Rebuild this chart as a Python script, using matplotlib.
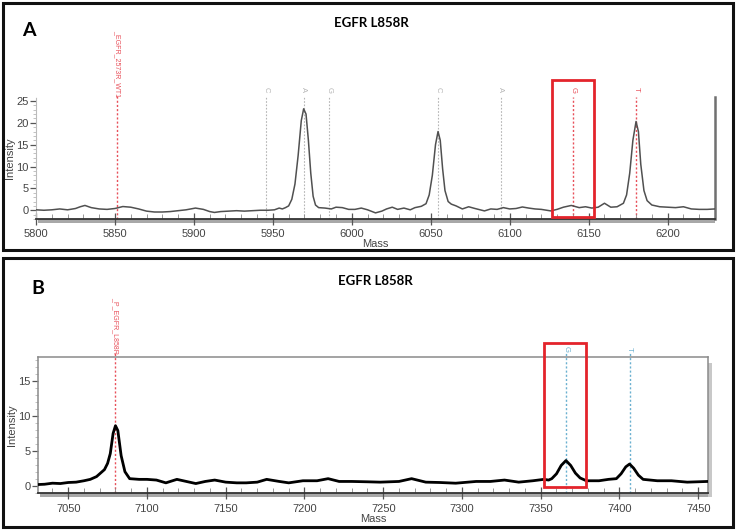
import matplotlib
matplotlib.use("Agg")
import matplotlib.pyplot as plt
from matplotlib.patches import Rectangle
from matplotlib.ticker import MultipleLocator

# ---------------- data: panel A ----------------
mass_a = [5800, 5805, 5810, 5815, 5820, 5825, 5828, 5831, 5835, 5840, 5845, 5850, 5855, 5860,
          5865, 5870, 5875, 5880, 5885, 5890, 5895, 5901, 5906, 5910, 5913, 5917, 5922, 5927,
          5932, 5937, 5942, 5947, 5951, 5954, 5956, 5958, 5960, 5962, 5964, 5966, 5968, 5969.5,
          5971, 5972.5, 5974, 5975.5, 5977, 5979, 5983, 5987, 5990, 5994, 5998, 6002, 6006,
          6010, 6015, 6019, 6022, 6025.6, 6029, 6033, 6037, 6040, 6044, 6047, 6049, 6051, 6053,
          6054.6, 6056, 6057.5, 6059, 6061, 6063, 6066, 6070, 6074, 6078, 6084, 6088, 6092,
          6096, 6100, 6104, 6108, 6112, 6116, 6120, 6126, 6130, 6134, 6139, 6144, 6148, 6152,
          6156, 6160, 6164, 6168, 6172, 6174, 6176, 6178, 6180, 6181.5, 6183, 6185, 6187, 6190,
          6195, 6200, 6205, 6210, 6215, 6220, 6225, 6230]
int_a = [0.1, 0.0, 0.1, 0.3, 0.1, 0.4, 0.8, 1.1, 0.6, 0.3, 0.2, 0.4, 0.85, 0.7,
         0.3, -0.2, -0.4, -0.4, -0.3, -0.1, 0.1, 0.5, 0.2, -0.3, -0.5, -0.3, -0.2, -0.1,
         -0.2, -0.1, 0.0, 0.0, 0.1, 0.5, 0.3, 0.6, 1.0, 2.5, 6.0, 12.5, 20.5, 23.2,
         22.0, 16.0, 8.5, 3.2, 1.2, 0.6, 0.5, 0.3, 0.7, 0.6, 0.2, 0.2, 0.5,
         0.1, -0.6, -0.2, 0.3, 0.7, 0.2, 0.5, 0.1, 0.6, 0.9, 1.5, 3.5, 8.0, 15.0,
         18.0, 16.0, 9.5, 4.5, 2.0, 1.4, 1.0, 0.3, 0.8, 0.4, -0.15, 0.3, 0.2,
         0.6, 0.3, 0.4, 0.75, 0.5, 0.3, 0.2, -0.15, 0.2, 0.7, 1.1, 0.6, 0.8, 0.5,
         0.7, 1.6, 0.7, 0.8, 1.6, 3.5, 8.5, 16.0, 20.3, 18.0, 10.5, 4.5, 2.2, 1.2,
         0.8, 0.7, 0.6, 0.8, 0.3, 0.2, 0.2, 0.3]

markers_a_mass = [5945.5, 5969.5, 5985.8, 6054.6, 6094.3, 6140.0, 6180.0]
markers_a_label = ["C", "A", "G", "C", "A", "G", "T"]
markers_a_red = [False, False, False, False, False, True, True]
probe_a_mass = 5851.5
probe_a_label = "_EGFR_2573R_WT1"
box_a = [6126.5, 6153.6, -1.55, 29.8]

# ---------------- data: panel B ----------------
mass_b = [7030, 7035, 7040, 7045, 7050, 7055, 7060, 7064, 7068, 7073, 7075, 7076.7, 7078.5, 7080,
          7081.5, 7083.6, 7086, 7089, 7095, 7100, 7106, 7112, 7119, 7125, 7131, 7137, 7143,
          7150, 7157, 7163, 7170, 7176, 7184, 7190, 7199, 7208, 7215, 7222, 7230, 7240, 7248,
          7260, 7268, 7277, 7286, 7296, 7309, 7318, 7327, 7336, 7345, 7352, 7355, 7357, 7360,
          7363, 7366, 7369, 7372, 7375, 7379, 7387, 7393, 7398, 7401, 7404, 7406.4, 7409, 7412,
          7415, 7424, 7433, 7443, 7456]
int_b = [0.15, 0.2, 0.35, 0.3, 0.45, 0.5, 0.7, 0.9, 1.3, 2.3, 3.2, 4.6, 7.5, 8.6,
         7.9, 4.3, 2.0, 1.0, 0.9, 0.9, 0.8, 0.4, 0.9, 0.6, 0.3, 0.6, 0.8,
         0.5, 0.4, 0.4, 0.5, 0.9, 0.6, 0.4, 0.7, 0.7, 1.0, 0.6, 0.6, 0.55, 0.5,
         0.6, 1.0, 0.5, 0.45, 0.35, 0.6, 0.6, 0.8, 0.5, 0.7, 0.9, 0.8, 1.0, 1.7,
         2.9, 3.6, 2.9, 1.8, 1.1, 0.7, 0.7, 0.9, 1.0, 1.7, 2.7, 3.1, 2.5, 1.5,
         0.9, 0.7, 0.7, 0.5, 0.6]

markers_b_mass = [7366.3, 7406.4]
markers_b_label = ["G", "T"]
probe_b_mass = 7080.0
probe_b_label = "_P_EGFR_L858R"
box_b = [7352.0, 7378.6, -0.15, 20.5]

title_text = "EGFR L858R"
xlabel_text = "Mass"
ylabel_text = "Intensity"

# ---------------- figure ----------------
W, H = 736, 530
plt.rcParams['font.family'] = ['Liberation Sans', 'DejaVu Sans']
fig = plt.figure(figsize=(W / 100, H / 100), dpi=100)

def fx(px):
    return px / W

def fy(py):
    return 1 - py / H

RED = "#e3242b"
LRED = "#e8505a"
GRAYL = "#b5b5b5"
BLUE = "#6ab0d0"
TICKC = "#555555"


def style_axes(ax, xlim, ylim, xmaj, ymaj, ymin_step, framed):
    ax.set_xlim(*xlim)
    ax.set_ylim(*ylim)
    ax.xaxis.set_major_locator(MultipleLocator(xmaj))
    ax.xaxis.set_minor_locator(MultipleLocator(10))
    ax.yaxis.set_major_locator(MultipleLocator(ymaj))
    ax.yaxis.set_minor_locator(MultipleLocator(ymin_step))
    ax.tick_params(axis='x', which='major', direction='inout', length=9, width=0.9,
                   colors=TICKC, labelsize=8, pad=3, labelcolor="#444444")
    ax.tick_params(axis='x', which='minor', direction='in', length=3.5, width=0.6, colors="#888888")
    ax.tick_params(axis='y', which='major', direction='out', length=4, width=0.9,
                   colors=TICKC, labelsize=8, pad=1.5, labelcolor="#444444")
    ax.tick_params(axis='y', which='minor', direction='out', length=2, width=0.5, colors="#aaaaaa")
    ax.spines['bottom'].set_color("#333333")
    ax.spines['bottom'].set_linewidth(1.3)
    if framed:
        for s in ['top', 'left', 'right']:
            ax.spines[s].set_color("#8a8a8a")
            ax.spines[s].set_linewidth(1.1)
    else:
        ax.spines['top'].set_visible(False)
        ax.spines['left'].set_color("#bbbbbb")
        ax.spines['left'].set_linestyle((0, (1, 1)))
        ax.spines['left'].set_linewidth(0.8)
        ax.spines['right'].set_color("#707070")
        ax.spines['right'].set_linewidth(1.8)
    ax.set_xlabel(xlabel_text, fontsize=8, color="#444444", labelpad=0)
    ax.set_ylabel(ylabel_text, fontsize=8, color="#444444", labelpad=1)
    ax.set_facecolor("white")
    axh = ax.get_position().height * H
    axw = ax.get_position().width * W
    ax.add_patch(Rectangle((0.003, -4.0 / axh), 0.997, 4.0 / axh, transform=ax.transAxes,
                           facecolor="#a8a8a8", edgecolor="none", clip_on=False, zorder=0))
    if framed:
        ax.add_patch(Rectangle((1.0, -4.0 / axh), 4.0 / axw, 1.0 - 2.0 / axh, transform=ax.transAxes,
                               facecolor="#c8c8c8", edgecolor="none", clip_on=False, zorder=0))


# Panel A
axA = fig.add_axes([fx(36), fy(219), (715 - 36) / W, (219 - 97) / H])
style_axes(axA, (5800, 6230), (-2, 25.9), 50, 5, 1, framed=False)
for m, lab, red in zip(markers_a_mass, markers_a_label, markers_a_red):
    c = LRED if red else GRAYL
    axA.vlines(m, -2, 25.9, colors=c, linestyles=(0, (1.5, 1.5)), linewidth=1.0 if red else 0.8, zorder=1)
    axA.text(m, 27.6, lab, rotation=-90, ha='center', va='center', fontsize=5.5, color=c, clip_on=False)
axA.vlines(probe_a_mass, -2, 26.6, colors=LRED, linestyles=(0, (1.5, 1.5)), linewidth=1.0,
           zorder=1, clip_on=False)
axA.text(probe_a_mass, 41.3, probe_a_label, rotation=-90, ha='center', va='top', fontsize=5,
         color=LRED, clip_on=False)
axA.plot(mass_a, int_a, color="#505050", linewidth=1.1, zorder=3)
axA.add_patch(Rectangle((box_a[0], box_a[2]), box_a[1] - box_a[0], box_a[3] - box_a[2],
                        fill=False, edgecolor=RED, linewidth=2.0, clip_on=False, zorder=5))

# Panel B
axB = fig.add_axes([fx(38.3), fy(493.3), (707.7 - 38.3) / W, (493.3 - 356.7) / H])
style_axes(axB, (7031, 7456), (-1.1, 18.5), 50, 5, 1, framed=True)
for m, lab in zip(markers_b_mass, markers_b_label):
    axB.vlines(m, -1.1, 19.0, colors=BLUE, linestyles=(0, (1.5, 1.5)), linewidth=1.0,
               zorder=1, clip_on=False)
    axB.text(m, 19.6, lab, rotation=-90, ha='center', va='center', fontsize=5.5, color=BLUE,
             clip_on=False)
axB.vlines(probe_b_mass, -1.1, 19.0, colors=LRED, linestyles=(0, (1.5, 1.5)), linewidth=1.0,
           zorder=1, clip_on=False)
axB.text(probe_b_mass, 27.1, probe_b_label, rotation=-90, ha='center', va='top', fontsize=5,
         color=LRED, clip_on=False)
axB.plot(mass_b, int_b, color="black", linewidth=2.0, zorder=3)
axB.add_patch(Rectangle((box_b[0], box_b[2]), box_b[1] - box_b[0], box_b[3] - box_b[2],
                        fill=False, edgecolor=RED, linewidth=2.0, clip_on=False, zorder=5))

# Panel frames, letters and titles
fig.patches.append(Rectangle((fx(2.5), fy(250)), (733 - 2.5) / W, (250 - 2.5) / H,
                             transform=fig.transFigure, fill=False, edgecolor="#111111",
                             linewidth=2.2, zorder=10))
fig.patches.append(Rectangle((fx(2.5), fy(527)), (733 - 2.5) / W, (527 - 258) / H,
                             transform=fig.transFigure, fill=False, edgecolor="#111111",
                             linewidth=2.2, zorder=10))
fig.text(fx(22), fy(31), "A", fontsize=14, fontweight='bold', family=['Lato', 'DejaVu Sans'],
         ha='left', va='center')
fig.text(fx(31), fy(289), "B", fontsize=14, fontweight='bold', family=['Lato', 'DejaVu Sans'],
         ha='left', va='center')
fig.text(fx(371), fy(23), title_text, fontsize=9.5, fontweight='bold',
         family=['Lato', 'DejaVu Sans'], ha='center', va='center')
fig.text(fx(375), fy(281), title_text, fontsize=9.5, fontweight='bold',
         family=['Lato', 'DejaVu Sans'], ha='center', va='center')

fig.savefig("out.png", dpi=100, facecolor="white")
